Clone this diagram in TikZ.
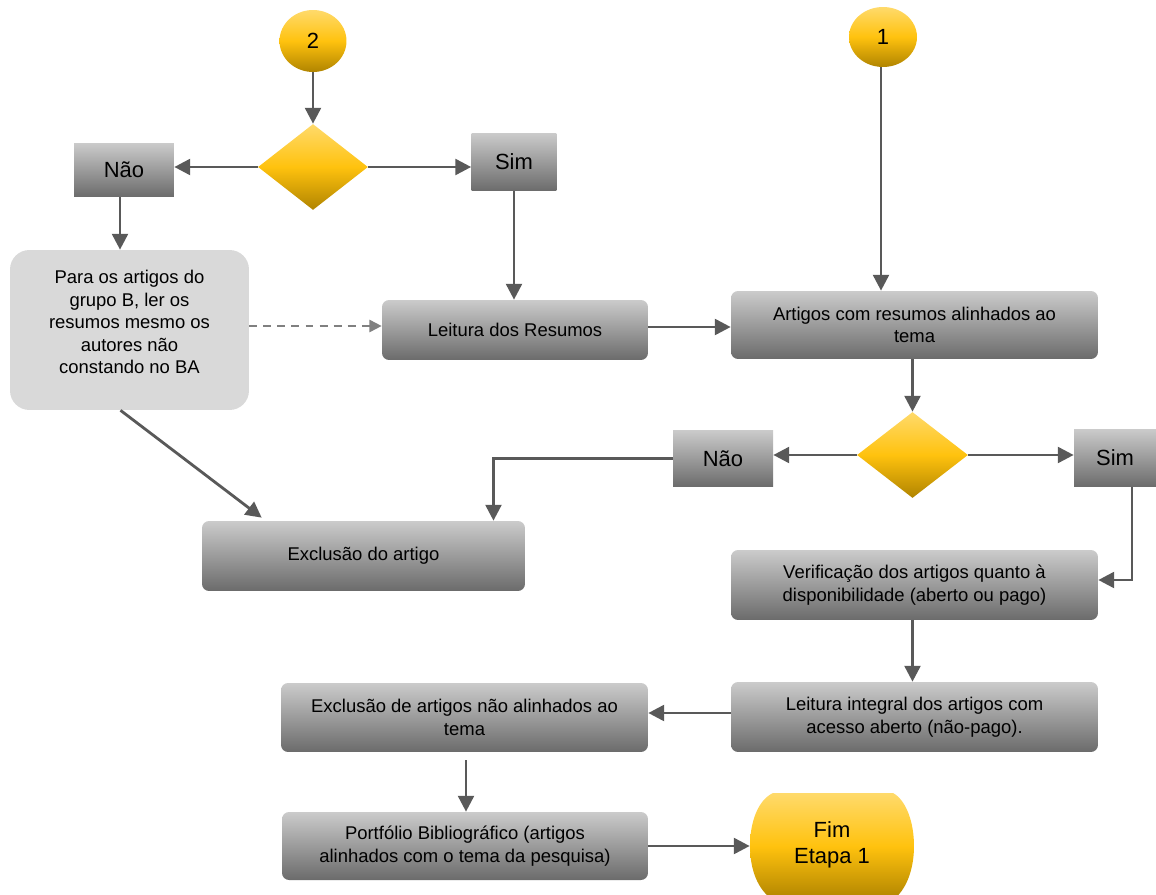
\documentclass[tikz,border=0pt]{standalone}
\usepackage{fontspec}
\setmainfont{Liberation Sans}
\usetikzlibrary{arrows.meta, shapes.geometric}
\definecolor{goldtop}{HTML}{FFDA6B}
\definecolor{goldmid}{HTML}{FFC20E}
\definecolor{goldbot}{HTML}{B08400}
\definecolor{boxtop}{HTML}{CBCBCB}
\definecolor{boxbot}{HTML}{6B6B6B}
\definecolor{notegray}{HTML}{D9D9D9}
\definecolor{linegray}{HTML}{595959}
\definecolor{dashgray}{HTML}{808080}

\tikzset{
    txt/.style={font=\fontsize{10.5}{12.8}\selectfont},
    big/.style={font=\fontsize{12.5}{15}\selectfont},
    box/.style={txt, align=center, inner sep=0pt, rounded corners=4pt,
        top color=boxtop, bottom color=boxbot},
    answer/.style={big, inner sep=0pt, top color=boxtop, bottom color=boxbot},
    gold/.style={inner sep=0pt, top color=goldtop, bottom color=goldbot, middle color=goldmid},
    conn/.style={draw=linegray, line width=1.6pt, -{Triangle[length=9pt,width=9pt]}},
    dashconn/.style={draw=dashgray, line width=1pt, dash pattern=on 4.5pt off 3.5pt,
        -{Triangle[length=7pt,width=7pt]}}
}

\begin{document}
\begin{tikzpicture}[x=0.02cm, y=-0.02cm]
    \useasboundingbox (0,0) rectangle (1156,895);

    % connectors 2 and 1
    \node[gold, ellipse, big, minimum width=1.34cm, minimum height=1.24cm] (c2) at (313,41) {2};
    \node[gold, ellipse, big, minimum width=1.36cm, minimum height=1.2cm] (c1) at (883,37) {1};

    % first decision
    \node[gold, diamond, minimum width=2.2cm, minimum height=1.72cm] (d1) at (313,167) {};
    \node[answer, minimum width=2cm, minimum height=1.08cm] (no1) at (124,170) {Não};
    \node[answer, minimum width=1.7cm, minimum height=1.16cm] (si1) at (514,162) {Sim};

    \node[txt, align=center, fill=notegray, rounded corners=11pt, inner sep=0pt,
        minimum width=4.78cm, minimum height=3.2cm] (para) at (129.5,330)
        {Para os artigos do\\grupo B, ler os\\resumos mesmo os\\autores não\\constando no BA\\[-3.5pt]\mbox{}};
    \node[box, minimum width=5.32cm, minimum height=1.2cm] (leit) at (515,330) {Leitura dos Resumos};
    \node[box, minimum width=7.34cm, minimum height=1.36cm] (art) at (914.5,325)
        {Artigos com resumos alinhados ao\\tema};

    % second decision
    \node[gold, diamond, minimum width=2.22cm, minimum height=1.72cm] (d2) at (912.5,455) {};
    \node[answer, minimum width=2cm, minimum height=1.14cm] (no2) at (723,458.5) {Não};
    \node[answer, minimum width=1.64cm, minimum height=1.16cm] (si2) at (1115,458) {Sim};

    \node[box, minimum width=6.46cm, minimum height=1.4cm] (excl) at (363.5,556) {Exclusão do artigo};
    \node[box, minimum width=7.34cm, minimum height=1.4cm] (verif) at (914.5,585)
        {Verificação dos artigos quanto à\\disponibilidade (aberto ou pago)};
    \node[box, minimum width=7.34cm, minimum height=1.4cm] (integ) at (914.5,717)
        {Leitura integral dos artigos com\\acesso aberto (não-pago).};
    \node[box, minimum width=7.34cm, minimum height=1.38cm] (exclart) at (464.5,717.5)
        {Exclusão de artigos não alinhados ao\\tema};
    \node[box, minimum width=7.32cm, minimum height=1.36cm] (port) at (465,846)
        {Portfólio Bibliográfico (artigos\\alinhados com o tema da pesquisa)};

    % end terminal
    \shade[top color=goldtop, bottom color=goldbot, middle color=goldmid]
        (773,793) -- (893,793) .. controls (906,800) and (914,822) .. (914,846)
        .. controls (914,870) and (906,890) .. (893,900) -- (773,900)
        .. controls (758,890) and (750,870) .. (750,846)
        .. controls (750,822) and (758,800) .. (773,793) -- cycle;
    \node[big, align=center, inner sep=0pt, minimum width=3.28cm, minimum height=2.08cm]
        (fim) at (832,845) {Fim\\Etapa 1};

    % arrows
    \draw[conn] (c2) -- (d1);
    \draw[conn] (d1.west) -- (no1.east |- d1.west);
    \draw[conn] (d1.east) -- (d1.east -| si1.west);
    \draw[conn] ([xshift=-0.08cm]no1.south) -- ([xshift=-0.08cm]no1.south |- para.north);
    \draw[conn] (si1.south) -- (si1.south |- leit.north);
    \draw[dashconn] ([yshift=0.08cm]para.east) -- ([yshift=0.08cm]para.east -| leit.west);
    \draw[conn] ([yshift=0.06cm]leit.east) -- ([yshift=0.06cm]leit.east -| art.west);
    \draw[conn] ([xshift=-0.04cm]c1.south) -- ([xshift=-0.04cm]c1.south |- art.north);
    \draw[conn] (art.south -| d2.north) -- (d2.north);
    \draw[conn] (d2.west) -- (d2.west -| no2.east);
    \draw[conn] (d2.east) -- (d2.east -| si2.west);
    \draw[conn] (no2.west) -| ([xshift=2.6cm]excl.north);
    \draw[conn] ([xshift=-0.18cm]para.south) -- ([xshift=1.2cm,yshift=0.06cm]excl.north west);
    \draw[conn] ([xshift=0.34cm]si2.south) |- ([yshift=0.1cm]verif.east);
    \draw[conn] (verif.south -| d2.north) -- (d2.north |- integ.north);
    \draw[conn] ([yshift=0.08cm]integ.west) -- ([yshift=0.08cm]integ.west -| exclart.east);
    \draw[conn, shorten <=4.5pt] ([xshift=0.03cm]exclart.south) -- ([xshift=0.03cm]exclart.south |- port.north);
    \draw[conn] (port.east) -- (port.east -| fim.west);
\end{tikzpicture}
\end{document}
